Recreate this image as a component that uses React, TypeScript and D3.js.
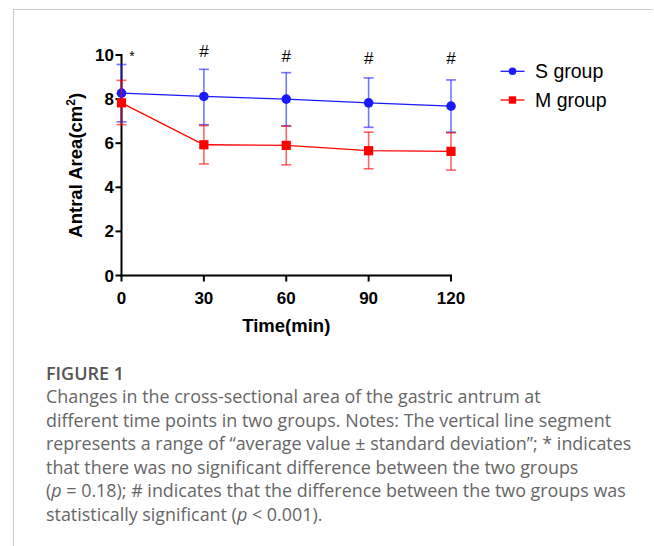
import React from "react";
import * as d3 from "d3";

const times = [0, 30, 60, 90, 120];
const sMean = [8.27, 8.12, 8.0, 7.83, 7.68];
const sUpper = [9.57, 9.35, 9.2, 8.96, 8.87];
const sLower = [6.97, 6.84, 6.79, 6.72, 6.5];
const mMean = [7.83, 5.93, 5.9, 5.66, 5.63];
const mUpper = [8.85, 6.8, 6.77, 6.5, 6.47];
const mLower = [6.84, 5.06, 5.02, 4.84, 4.78];
const sigLabels = ["*", "#", "#", "#", "#"];
const sigHeights = [9.72, 9.92, 9.7, 9.6, 9.6];
const yTicks = [0, 2, 4, 6, 8, 10];

const captionTitle = "FIGURE 1";
const captionLines = [
  "Changes in the cross-sectional area of the gastric antrum at",
  "different time points in two groups. Notes: The vertical line segment",
  "represents a range of \u201caverage value \u00b1 standard deviation\u201d; * indicates",
  "that there was no significant difference between the two groups",
  "(p = 0.18); # indicates that the difference between the two groups was",
  "statistically significant (p < 0.001).",
];

const W = 654;
const H = 546;

const BLUE = "#1a1aff";
const RED = "#ff0000";

const x = d3.scaleLinear().domain([0, 120]).range([121.5, 451]);
const y = d3.scaleLinear().domain([0, 10]).range([275.5, 55]);

const axisFont = "'Liberation Sans', Arial, sans-serif";
const capFont = "'Open Sans', Lato, sans-serif";

function Series({ mean, upper, lower, color, shape }) {
  const line = d3
    .line<number>()
    .x((_, i) => x(times[i]))
    .y((d) => y(d));
  return (
    <g>
      <g stroke={color} strokeOpacity={0.6} strokeWidth={1.6}>
        {times.map((t, i) => (
          <g key={t}>
            <line x1={x(t)} x2={x(t)} y1={y(upper[i])} y2={y(lower[i])} />
            <line x1={x(t) - 5} x2={x(t) + 5} y1={y(upper[i])} y2={y(upper[i])} />
            <line x1={x(t) - 5} x2={x(t) + 5} y1={y(lower[i])} y2={y(lower[i])} />
          </g>
        ))}
      </g>
      <path d={line(mean) || ""} fill="none" stroke={color} strokeWidth={1.3} />
      {times.map((t, i) =>
        shape === "circle" ? (
          <circle key={t} cx={x(t)} cy={y(mean[i])} r={4.8} fill={color} />
        ) : (
          <rect key={t} x={x(t) - 4.6} y={y(mean[i]) - 4.6} width={9.2} height={9.2} fill={color} />
        )
      )}
    </g>
  );
}

function renderCaption(line: string) {
  // italicise the p values
  const parts = line.split(/(\(p )/);
  return parts.map((p, i) =>
    p === "(p " ? (
      <React.Fragment key={i}>
        (<tspan fontStyle="italic">p</tspan>{" "}
      </React.Fragment>
    ) : (
      <React.Fragment key={i}>{p}</React.Fragment>
    )
  );
}

export default function App() {
  return (
    <svg
      width={W}
      height={H}
      style={{ position: "absolute", left: 0, top: 0, background: "#fff" }}
    >
      {/* frame */}
      <line x1={13} x2={653} y1={9.5} y2={9.5} stroke="#c8c8c8" strokeWidth={1} />
      <line x1={13.5} x2={13.5} y1={9.5} y2={H} stroke="#c8c8c8" strokeWidth={1} />

      {/* axes */}
      <g stroke="#000" strokeWidth={2} fill="none">
        <line x1={x(0)} x2={x(0)} y1={y(10) - 1} y2={y(0) + 1} />
        <line x1={x(0) - 1} x2={x(120) + 1} y1={y(0)} y2={y(0)} />
        {yTicks.map((t) => (
          <line key={t} x1={x(0) - 6} x2={x(0)} y1={y(t)} y2={y(t)} />
        ))}
        {times.map((t) => (
          <line key={t} x1={x(t)} x2={x(t)} y1={y(0)} y2={y(0) + 6} />
        ))}
      </g>
      <g fontFamily={axisFont} fontWeight="bold" fontSize={17} fill="#000">
        {yTicks.map((t) => (
          <text key={t} x={x(0) - 7.5} y={y(t) + 6} textAnchor="end">
            {t}
          </text>
        ))}
        {times.map((t) => (
          <text key={t} x={x(t)} y={303.5} textAnchor="middle">
            {t}
          </text>
        ))}
      </g>
      <text
        x={286.3}
        y={331.7}
        textAnchor="middle"
        fontFamily={axisFont}
        fontWeight="bold"
        fontSize={18.5}
      >
        Time(min)
      </text>
      <text
        transform={`translate(81.5,${y(5)}) rotate(-90)`}
        textAnchor="middle"
        fontFamily={axisFont}
        fontWeight="bold"
        fontSize={18.5}
      >
        Antral Area(cm<tspan dy={-7} fontSize={12}>2</tspan>
        <tspan dy={7}>)</tspan>
      </text>

      <Series mean={sMean} upper={sUpper} lower={sLower} color={BLUE} shape="circle" />
      <Series mean={mMean} upper={mUpper} lower={mLower} color={RED} shape="square" />

      {/* significance marks */}
      <g fontFamily={axisFont} fill="#000" textAnchor="middle">
        {times.map((t, i) =>
          sigLabels[i] === "*" ? (
            <text key={t} x={x(t) + 10.5} y={y(sigHeights[i])} fontSize={14}>
              *
            </text>
          ) : (
            <text key={t} x={x(t)} y={y(sigHeights[i])} fontSize={17}>
              {sigLabels[i]}
            </text>
          )
        )}
      </g>

      {/* legend */}
      <g fontFamily={axisFont} fontSize={19.5} fill="#000">
        <line x1={500.5} x2={524.5} y1={71.3} y2={71.3} stroke={BLUE} strokeWidth={1.3} />
        <circle cx={512.5} cy={71.3} r={3.8} fill={BLUE} />
        <text x={535} y={78}>S group</text>
        <line x1={500.5} x2={524.5} y1={100} y2={100} stroke={RED} strokeWidth={1.3} />
        <rect x={508.8} y={96.3} width={7.4} height={7.4} fill={RED} />
        <text x={535} y={106.5}>M group</text>
      </g>

      {/* caption */}
      <text x={46} y={380} fontFamily={capFont} fontWeight={600} fontSize={18} fill="#555">
        {captionTitle}
      </text>
      <g fontFamily={capFont} fontSize={17.9} fill="#666">
        {captionLines.map((l, i) => (
          <text key={i} x={46} y={403 + i * 23.6}>
            {renderCaption(l)}
          </text>
        ))}
      </g>
    </svg>
  );
}
